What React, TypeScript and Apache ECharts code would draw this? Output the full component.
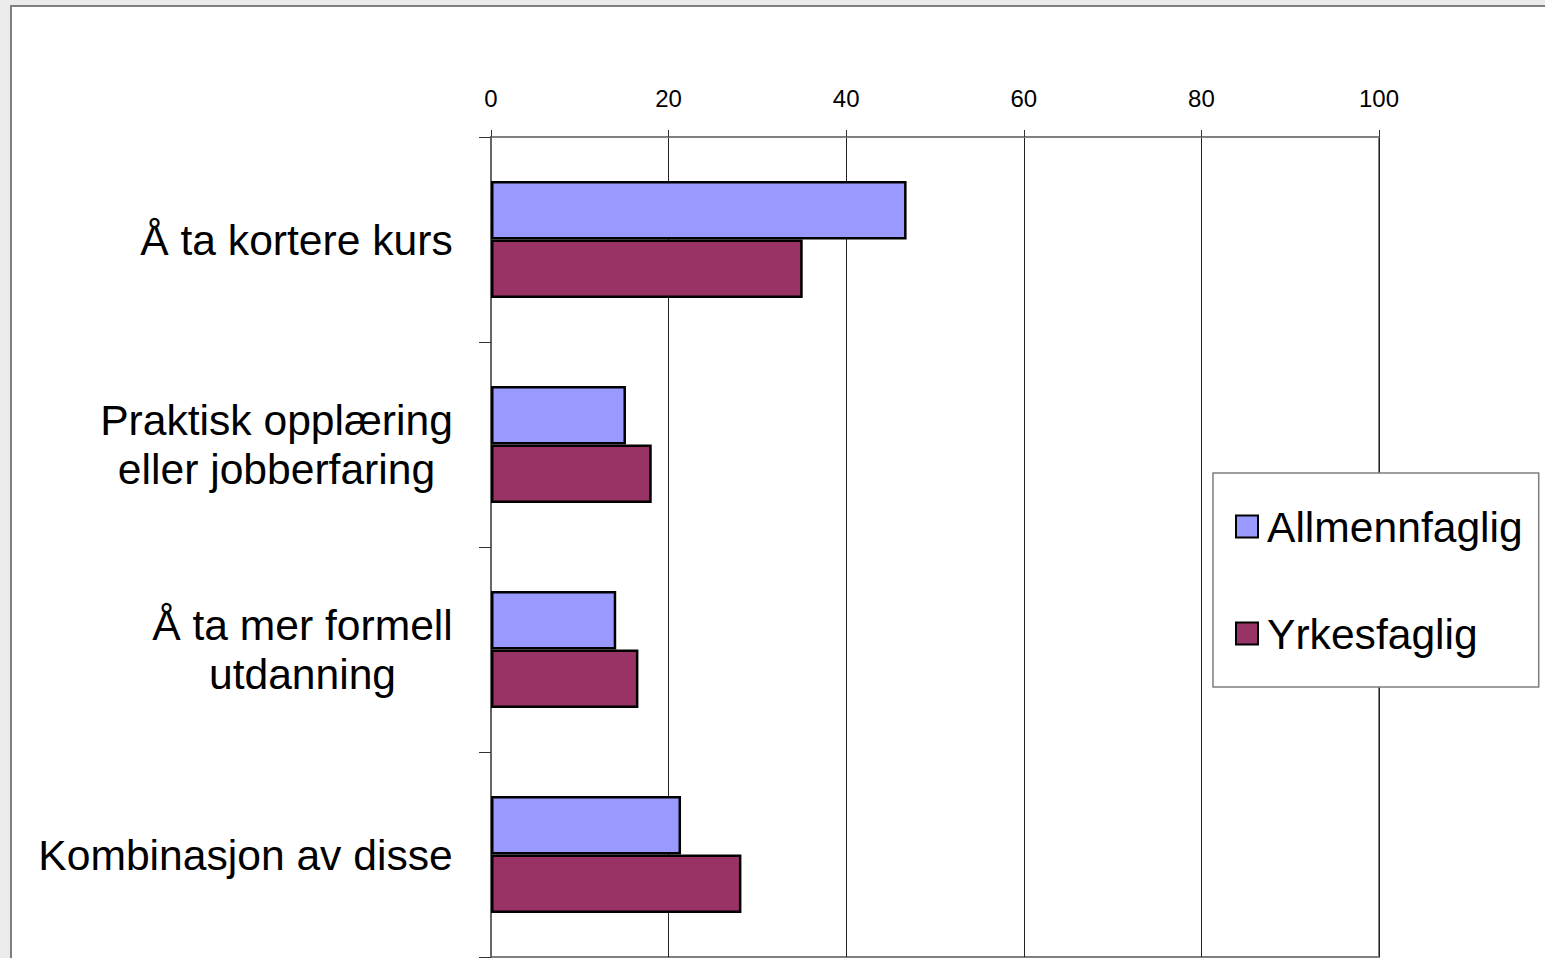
import React, { useEffect, useRef } from "react";
import * as echarts from "echarts";

const categories = [
  "Å ta kortere kurs",
  "Praktisk opplæring\neller jobberfaring",
  "Å ta mer formell\nutdanning",
  "Kombinasjon av disse",
];
const seriesNames = ["Allmennfaglig", "Yrkesfaglig"];
const allmennfaglig = [46.8, 15.2, 14.1, 21.4];
const yrkesfaglig = [35.1, 18.1, 16.6, 28.2];
const xTicks = [0, 20, 40, 60, 80, 100];

const FONT = '"Liberation Sans", Arial, sans-serif';
const CAT_SIZE = 42.6;

export default function App() {
  const ref = useRef<HTMLDivElement>(null);
  useEffect(() => {
    if (!ref.current) return;
    const chart = echarts.init(ref.current, null, { renderer: "svg" });
    const canvas = document.createElement("canvas");
    const ctx = canvas.getContext("2d")!;
    ctx.font = `${CAT_SIZE}px ${FONT}`;
    const rich: Record<string, any> = {};
    categories.forEach((c, i) => {
      const lines = c.split("\n");
      const w = Math.ceil(Math.max(...lines.map((l) => ctx.measureText(l).width)));
      rich["c" + i] = {
        width: w,
        align: "center",
        fontSize: CAT_SIZE,
        fontFamily: FONT,
        color: "#000",
        lineHeight: 49,
      };
    });
    chart.setOption({
      animation: false,
      backgroundColor: "#ebebeb",
      graphic: [
        {
          type: "rect",
          z: -10,
          shape: { x: 11, y: 6, width: 1560, height: 960 },
          style: { fill: "#ffffff", stroke: "#7f7f7f", lineWidth: 2 },
        },
      ],
      grid: {
        left: 491,
        top: 137,
        right: 1545 - 1379,
        bottom: 958 - 957,
        show: true,
        borderColor: "#808080",
        borderWidth: 2,
        backgroundColor: "transparent",
      },
      legend: {
        orient: "vertical",
        left: 1213,
        top: 473,
        padding: [32, 16, 32, 22],
        itemGap: 64,
        itemWidth: 22,
        itemHeight: 22,
        backgroundColor: "#ffffff",
        borderColor: "#7f7f7f",
        borderWidth: 1.5,
        icon: "rect",
        textStyle: {
          fontSize: CAT_SIZE,
          fontFamily: FONT,
          color: "#000",
          padding: [0, 0, 0, 4],
        },
        itemStyle: { borderColor: "#000", borderWidth: 2 },
        data: seriesNames,
      },
      xAxis: {
        type: "value",
        position: "top",
        min: 0,
        max: 100,
        interval: 20,
        axisLine: { show: true, lineStyle: { color: "#808080", width: 2 } },
        axisTick: { show: true, length: 7, lineStyle: { color: "#333" } },
        axisLabel: {
          margin: 27,
          fontSize: 24,
          fontFamily: FONT,
          color: "#000",
          formatter: (v: number) => (xTicks.includes(v) ? String(v) : ""),
        },
        splitLine: { show: true, lineStyle: { color: "#222", width: 1 } },
      },
      yAxis: {
        type: "category",
        inverse: true,
        data: categories,
        axisLine: { show: true, lineStyle: { color: "#666", width: 2 } },
        axisTick: { show: true, length: 12, lineStyle: { color: "#333" } },
        axisLabel: {
          margin: 38,
          fontSize: CAT_SIZE,
          fontFamily: FONT,
          color: "#000",
          lineHeight: 49,
          formatter: (val: string, idx: number) =>
            val
              .split("\n")
              .map((l) => `{c${idx}|${l}}`)
              .join("\n"),
          rich,
        },
      },
      series: [
        {
          name: seriesNames[0],
          type: "bar",
          data: allmennfaglig,
          barGap: "0%",
          barCategoryGap: "43%",
          itemStyle: { color: "#9999ff", borderColor: "#000", borderWidth: 2.5 },
        },
        {
          name: seriesNames[1],
          type: "bar",
          data: yrkesfaglig,
          barGap: "0%",
          barCategoryGap: "43%",
          itemStyle: { color: "#993366", borderColor: "#000", borderWidth: 2.5 },
        },
      ],
    });
    return () => chart.dispose();
  }, []);
  return (
    <div
      ref={ref}
      style={{ position: "absolute", left: 0, top: 0, width: 1545, height: 958 }}
    />
  );
}
